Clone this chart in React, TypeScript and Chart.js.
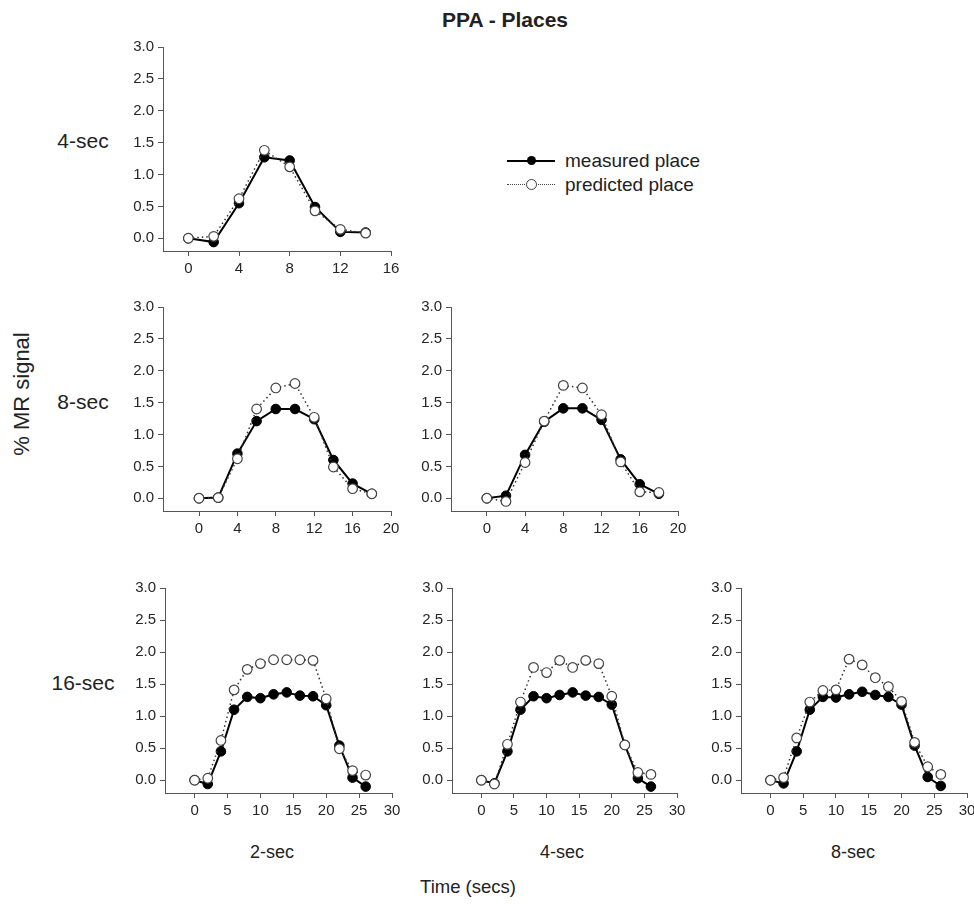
import React, { useEffect, useRef } from 'react';
import { Chart, registerables } from 'chart.js';

Chart.register(...registerables);

const FONT = '"Liberation Sans", Arial, Helvetica, sans-serif';

// ---- tick labels ----
const yTicks = [0, 0.5, 1.0, 1.5, 2.0, 2.5, 3.0];
const xTicks16 = [0, 4, 8, 12, 16];
const xTicks20 = [0, 4, 8, 12, 16, 20];
const xTicks30 = [0, 5, 10, 15, 20, 25, 30];

// ---- time points (secs) ----
const time4 = [0, 2, 4, 6, 8, 10, 12, 14];
const time8 = [0, 2, 4, 6, 8, 10, 12, 14, 16, 18];
const time16 = [0, 2, 4, 6, 8, 10, 12, 14, 16, 18, 20, 22, 24, 26];

// ---- 4-sec blocks, 2-sec ----
const measured4s2 = [0.0, -0.06, 0.55, 1.27, 1.22, 0.49, 0.1, 0.09];
const predicted4s2 = [0.0, 0.03, 0.62, 1.38, 1.12, 0.43, 0.14, 0.08];

// ---- 8-sec blocks ----
const measured8s2 = [0.0, 0.01, 0.7, 1.21, 1.4, 1.4, 1.24, 0.6, 0.23, 0.07];
const predicted8s2 = [0.0, 0.01, 0.62, 1.4, 1.73, 1.8, 1.27, 0.49, 0.15, 0.07];
const measured8s4 = [0.0, 0.04, 0.68, 1.2, 1.41, 1.41, 1.23, 0.61, 0.22, 0.07];
const predicted8s4 = [0.0, -0.05, 0.56, 1.21, 1.77, 1.73, 1.31, 0.57, 0.1, 0.09];

// ---- 16-sec blocks ----
const measured16s2 = [0.0, -0.06, 0.45, 1.1, 1.3, 1.28, 1.34, 1.37, 1.32, 1.31, 1.17, 0.54, 0.04, -0.1];
const predicted16s2 = [0.0, 0.03, 0.62, 1.41, 1.73, 1.82, 1.88, 1.88, 1.88, 1.87, 1.27, 0.49, 0.15, 0.08];
const measured16s4 = [0.0, -0.05, 0.45, 1.1, 1.31, 1.28, 1.33, 1.37, 1.32, 1.3, 1.18, 0.55, 0.03, -0.1];
const predicted16s4 = [0.0, -0.06, 0.56, 1.22, 1.76, 1.68, 1.87, 1.76, 1.87, 1.82, 1.31, 0.55, 0.12, 0.09];
const measured16s8 = [0.0, -0.05, 0.45, 1.1, 1.3, 1.29, 1.34, 1.38, 1.33, 1.3, 1.18, 0.54, 0.05, -0.09];
const predicted16s8 = [0.0, 0.04, 0.66, 1.22, 1.4, 1.41, 1.89, 1.8, 1.6, 1.46, 1.23, 0.59, 0.21, 0.09];

const Y_MIN = -0.2;
const Y_MAX = 3.0;

type Area = { left: number; top: number; right: number; bottom: number };

type PanelProps = {
  area: Area;
  xMin: number;
  xMax: number;
  xTicks: number[];
  times: number[];
  measured: number[];
  predicted: number[];
};

const YW = 50;
const XH = 34;
const PT = 10;
const PR = 14;

function Panel({ area, xMin, xMax, xTicks, times, measured, predicted }: PanelProps) {
  const ref = useRef<HTMLCanvasElement>(null);
  const w = area.right - area.left + YW + PR;
  const h = area.bottom - area.top + PT + XH;

  useEffect(() => {
    if (!ref.current) return;
    const axisColor = '#555';
    const labelColor = '#262626';
    const chart = new Chart(ref.current, {
      type: 'line',
      data: {
        datasets: [
          {
            label: 'predicted place',
            data: times.map((t, i) => ({ x: t, y: predicted[i] })),
            borderColor: '#333',
            borderWidth: 1.5,
            borderDash: [1.5, 3],
            pointRadius: 4.8,
            pointBackgroundColor: '#fff',
            pointBorderColor: '#444',
            pointBorderWidth: 1.2,
            tension: 0,
            order: 0,
          },
          {
            label: 'measured place',
            data: times.map((t, i) => ({ x: t, y: measured[i] })),
            borderColor: '#000',
            borderWidth: 2,
            pointRadius: 4.8,
            pointBackgroundColor: '#000',
            pointBorderColor: '#000',
            pointBorderWidth: 1,
            tension: 0,
            order: 1,
          },
        ],
      },
      options: {
        animation: false,
        responsive: false,
        maintainAspectRatio: false,
        layout: { padding: { top: PT, right: PR, left: 0, bottom: 0 } },
        plugins: { legend: { display: false }, tooltip: { enabled: false } },
        scales: {
          x: {
            type: 'linear',
            min: xMin,
            max: xMax,
            afterFit: (s: any) => {
              s.height = XH;
            },
            afterBuildTicks: (a: any) => {
              a.ticks = xTicks.map((v) => ({ value: v }));
            },
            grid: { drawOnChartArea: false, drawTicks: true, tickLength: 5, color: axisColor, lineWidth: 1 },
            border: { display: true, color: axisColor, width: 1 },
            ticks: {
              font: { family: FONT, size: 15 },
              color: labelColor,
              padding: 4,
              maxRotation: 0,
              autoSkip: false,
              callback: (v: any) => String(v),
            },
          },
          y: {
            type: 'linear',
            min: Y_MIN,
            max: Y_MAX,
            afterFit: (s: any) => {
              s.width = YW;
            },
            afterBuildTicks: (a: any) => {
              a.ticks = yTicks.map((v) => ({ value: v }));
            },
            grid: { drawOnChartArea: false, drawTicks: true, tickLength: 5, color: axisColor, lineWidth: 1 },
            border: { display: true, color: axisColor, width: 1 },
            ticks: {
              font: { family: FONT, size: 15 },
              color: labelColor,
              padding: 4,
              autoSkip: false,
              callback: (v: any) => Number(v).toFixed(1),
            },
          },
        },
      },
    } as any);
    return () => chart.destroy();
  }, []);

  return (
    <canvas
      ref={ref}
      width={w}
      height={h}
      style={{ position: 'absolute', left: area.left - YW, top: area.top - PT, width: w, height: h }}
    />
  );
}

const textBase: React.CSSProperties = {
  position: 'absolute',
  fontFamily: FONT,
  color: '#222',
  whiteSpace: 'nowrap',
  lineHeight: 1,
};

function Label({ x, y, size, text, bold, rotate }: { x: number; y: number; size: number; text: string; bold?: boolean; rotate?: boolean }) {
  return (
    <div
      style={{
        ...textBase,
        left: x,
        top: y,
        fontSize: size,
        fontWeight: bold ? 'bold' : 'normal',
        transform: `translate(-50%, -50%)${rotate ? ' rotate(-90deg)' : ''}`,
      }}
    >
      {text}
    </div>
  );
}

function Legend() {
  return (
    <div style={{ position: 'absolute', left: 507, top: 150 }}>
      <div style={{ position: 'relative', height: 24, width: 240 }}>
        <div style={{ position: 'absolute', left: 0, top: 10, width: 48, height: 0, borderTop: '2px solid #000' }} />
        <div style={{ position: 'absolute', left: 20, top: 6, width: 9, height: 9, borderRadius: '50%', background: '#000' }} />
        <div style={{ ...textBase, left: 58, top: 1, fontSize: 19 }}>measured place</div>
      </div>
      <div style={{ position: 'relative', height: 24, width: 240 }}>
        <div style={{ position: 'absolute', left: 0, top: 10, width: 48, height: 0, borderTop: '1.5px dotted #444' }} />
        <div
          style={{
            position: 'absolute',
            left: 19,
            top: 5,
            width: 9,
            height: 9,
            borderRadius: '50%',
            background: '#fff',
            border: '1.2px solid #444',
          }}
        />
        <div style={{ ...textBase, left: 58, top: 1, fontSize: 19 }}>predicted place</div>
      </div>
    </div>
  );
}

export default function App() {
  return (
    <div style={{ position: 'absolute', left: 0, top: 0, width: 974, height: 904, background: '#fff', overflow: 'hidden' }}>
      <Label x={505} y={19} size={21} bold text="PPA - Places" />
      <Label x={83} y={140} size={21} text="4-sec" />
      <Label x={83} y={401} size={21} text="8-sec" />
      <Label x={83} y={682} size={21} text="16-sec" />
      <Label x={22} y={394} size={22} rotate text="% MR signal" />
      <Label x={272} y={852} size={18} text="2-sec" />
      <Label x={562} y={852} size={18} text="4-sec" />
      <Label x={853} y={852} size={18} text="8-sec" />
      <Label x={468} y={887} size={18.5} text="Time (secs)" />
      <Legend />

      <Panel area={{ left: 163, top: 44, right: 391, bottom: 251 }} xMin={-2} xMax={16} xTicks={xTicks16} times={time4} measured={measured4s2} predicted={predicted4s2} />
      <Panel area={{ left: 163, top: 304, right: 391, bottom: 511 }} xMin={-3.75} xMax={20} xTicks={xTicks20} times={time8} measured={measured8s2} predicted={predicted8s2} />
      <Panel area={{ left: 451, top: 304, right: 678, bottom: 511 }} xMin={-3.75} xMax={20} xTicks={xTicks20} times={time8} measured={measured8s4} predicted={predicted8s4} />
      <Panel area={{ left: 165, top: 585, right: 392, bottom: 793 }} xMin={-4.5} xMax={30} xTicks={xTicks30} times={time16} measured={measured16s2} predicted={predicted16s2} />
      <Panel area={{ left: 452, top: 585, right: 677, bottom: 793 }} xMin={-4.5} xMax={30} xTicks={xTicks30} times={time16} measured={measured16s4} predicted={predicted16s4} />
      <Panel area={{ left: 741, top: 585, right: 967, bottom: 793 }} xMin={-4.5} xMax={30} xTicks={xTicks30} times={time16} measured={measured16s8} predicted={predicted16s8} />
    </div>
  );
}
